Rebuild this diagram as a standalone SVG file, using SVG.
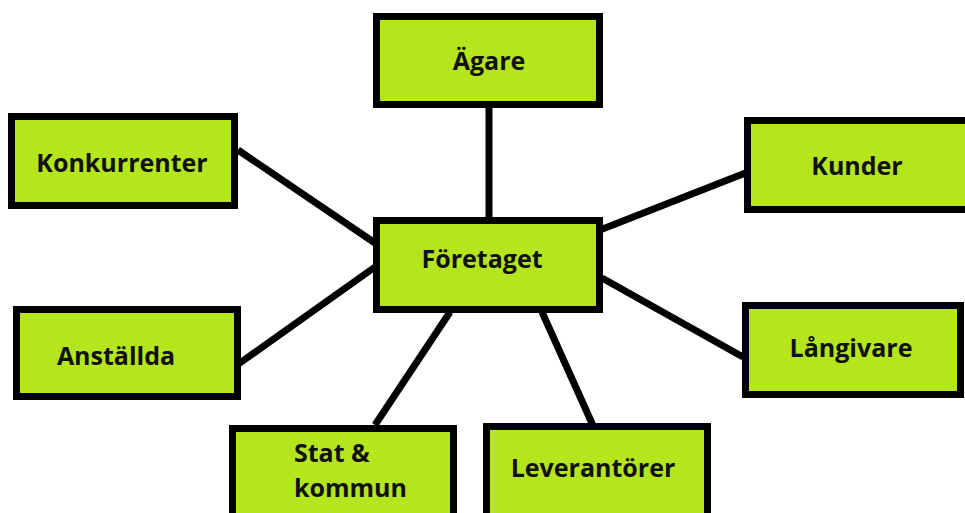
<svg xmlns="http://www.w3.org/2000/svg" width="965" height="513" viewBox="0 0 965 513">
<style>
.box{fill:#b5e51d;stroke:#000;stroke-width:7}
.lbl{font-family:"Open Sans","Liberation Sans",sans-serif;font-weight:bold;font-size:25px;fill:#111}
.mid{text-anchor:middle}
.conn line{stroke:#000;stroke-width:7}
</style>
<rect width="965" height="513" fill="#fff"/>
<g id="connectors" class="conn">
<line x1="489" y1="108" x2="489" y2="220"/>
<line x1="238" y1="150" x2="375" y2="243"/>
<line x1="237" y1="365" x2="375" y2="267"/>
<line x1="600" y1="230" x2="753" y2="170"/>
<line x1="602" y1="278" x2="743" y2="357"/>
<line x1="450" y1="312" x2="375" y2="425"/>
<line x1="542" y1="312" x2="595" y2="430"/>
</g>
<g id="agare"><rect class="box" x="376.5" y="16.5" width="223" height="88"/><text class="lbl mid" x="489" y="70">Ägare</text></g>
<g id="foretaget"><rect class="box" x="376.5" y="220.5" width="223" height="89"/><text class="lbl mid" x="482" y="268">Företaget</text></g>
<g id="konkurrenter"><rect class="box" x="11.5" y="116.5" width="223" height="89"/><text class="lbl mid" x="122" y="172">Konkurrenter</text></g>
<g id="anstallda"><rect class="box" x="16.5" y="309.5" width="221" height="87"/><text class="lbl mid" x="116" y="365">Anställda</text></g>
<g id="kunder"><rect class="box" x="747.5" y="120.5" width="230" height="89"/><text class="lbl mid" x="857" y="175">Kunder</text></g>
<g id="langivare"><rect class="box" x="745.5" y="305.5" width="215" height="89"/><text class="lbl mid" x="851" y="357">Långivare</text></g>
<g id="stat"><rect class="box" x="232.5" y="428.5" width="221" height="100"/><text class="lbl" x="294" y="462">Stat &amp;</text><text class="lbl" x="294" y="497">kommun</text></g>
<g id="leverantorer"><rect class="box" x="486.5" y="426.5" width="221" height="100"/><text class="lbl mid" x="593" y="477">Leverantörer</text></g>
</svg>
